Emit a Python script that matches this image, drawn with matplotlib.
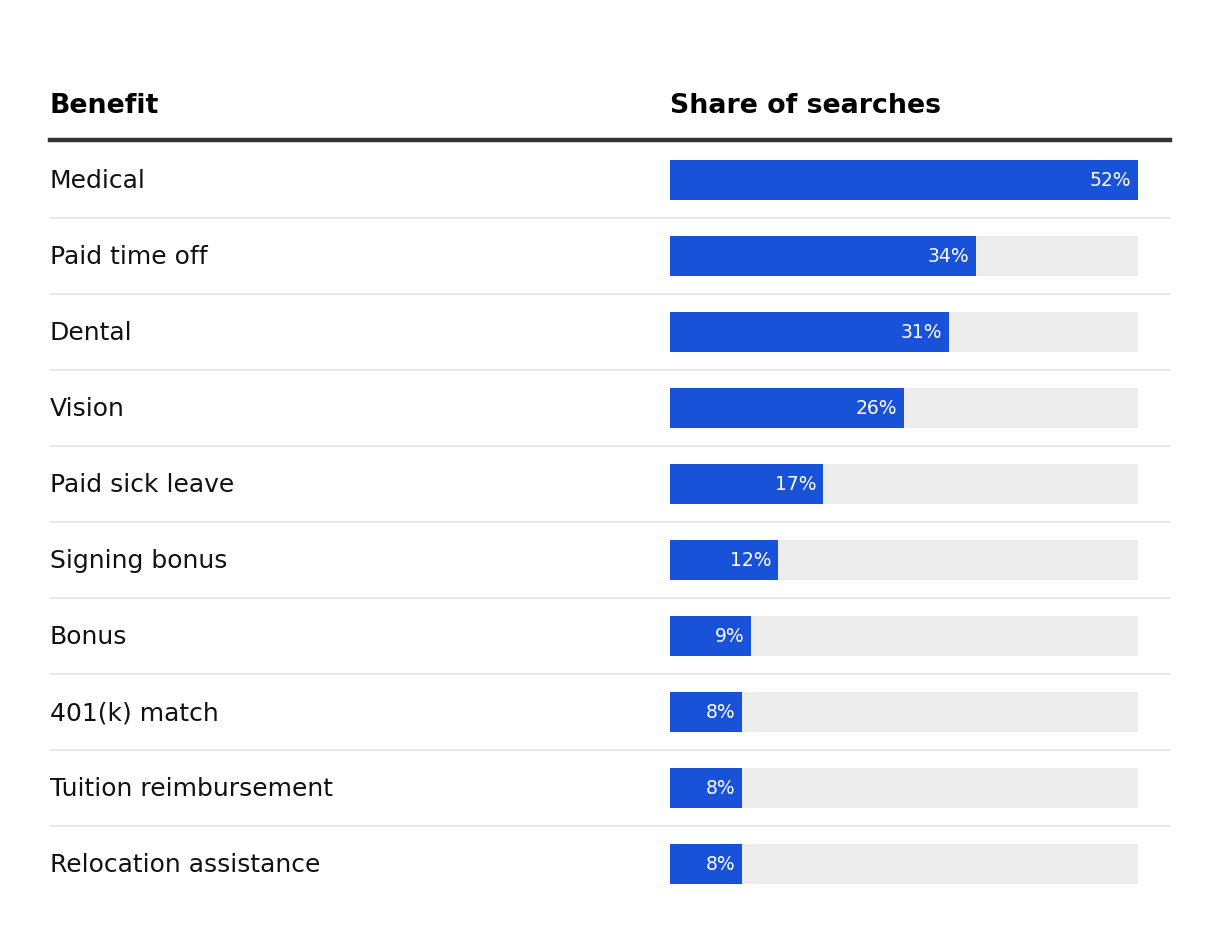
import matplotlib.pyplot as plt
from matplotlib.transforms import blended_transform_factory
from matplotlib.lines import Line2D

benefits = ["Medical", "Paid time off", "Dental", "Vision", "Paid sick leave",
            "Signing bonus", "Bonus", "401(k) match", "Tuition reimbursement",
            "Relocation assistance"]
share = [52, 34, 31, 26, 17, 12, 9, 8, 8, 8]
headers = ["Benefit", "Share of searches"]

blue = "#1852d8"
track = "#ededed"
W, H = 1220, 950

fig = plt.figure(figsize=(12.2, 9.5), dpi=100)
# bar area: x 670..1138 px, rows start below the header rule at 142 px
ax = fig.add_axes([670 / W, 1 - 902 / H, 468 / W, 760 / H])
ax.set_xlim(0, max(share))
ax.set_ylim(len(benefits) - 0.5, -0.5)
ax.axis("off")

rows = range(len(benefits))
ax.barh(rows, [max(share)] * len(benefits), height=40 / 76, color=track, zorder=1)
ax.barh(rows, share, height=40 / 76, color=blue, zorder=2)

lab_tr = blended_transform_factory(fig.transFigure, ax.transData)
for i, (name, v) in enumerate(zip(benefits, share)):
    ax.text(50 / W, i + 8 / 76, name, transform=lab_tr,
            fontsize=18, va="baseline", ha="left", color="#111111")
    ax.annotate(f"{v}%", xy=(v, i), xytext=(-5, 0), textcoords="offset points",
                ha="right", va="center", color="white", fontsize=13.5, zorder=3)

# thin row separators
for i in range(len(benefits) - 1):
    fig.add_artist(Line2D([50 / W, 1170 / W], [i + 0.5, i + 0.5], transform=lab_tr,
                          color="#e6e6e6", linewidth=1.2))

# header rule and headers
fig.add_artist(Line2D([50 / W, 1170 / W], [1 - 139.5 / H] * 2, color="#333333", linewidth=3.2))
fig.text(50 / W, 1 - 113 / H, headers[0], fontsize=19.3, fontweight="bold", va="baseline")
fig.text(670 / W, 1 - 113 / H, headers[1], fontsize=19.3, fontweight="bold", va="baseline")

fig.savefig("out.png", dpi=100, facecolor="white")
